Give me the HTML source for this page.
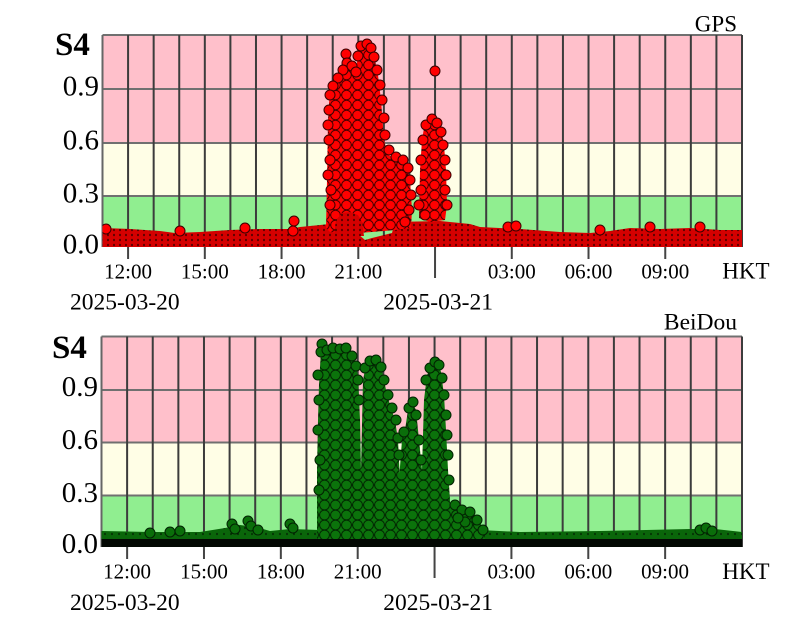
<!DOCTYPE html>
<html>
<head>
<meta charset="utf-8">
<style>
html,body{margin:0;padding:0;background:#fff;}
svg{display:block;}
text{font-family:"Liberation Serif","Times New Roman",serif;fill:#000;}
</style>
</head>
<body>
<svg width="796" height="630" viewBox="0 0 796 630" xmlns="http://www.w3.org/2000/svg">
<defs>
<clipPath id="c1"><rect x="102.5" y="35" width="639.5" height="212"/></clipPath>
<clipPath id="c2"><rect x="101.5" y="336.5" width="640.5" height="210.5"/></clipPath>
<pattern id="bandR" x="0" y="0" width="6" height="5" patternUnits="userSpaceOnUse">
<g fill="#d40000" stroke="#1a0000" stroke-width="1.7">
<circle cx="0" cy="0" r="4"/><circle cx="6" cy="0" r="4"/><circle cx="0" cy="5" r="4"/><circle cx="6" cy="5" r="4"/><circle cx="3" cy="2.5" r="4"/>
</g></pattern>
<pattern id="stR" x="0" y="0" width="11" height="10" patternUnits="userSpaceOnUse">
<g fill="#ff0000" stroke="#4a0000" stroke-width="1">
<circle cx="0" cy="0" r="4.8"/><circle cx="11" cy="0" r="4.8"/><circle cx="0" cy="10" r="4.8"/><circle cx="11" cy="10" r="4.8"/><circle cx="5.5" cy="5" r="4.8"/>
</g></pattern>
<pattern id="bandG" x="0" y="0" width="7" height="6" patternUnits="userSpaceOnUse">
<g fill="#0a660a" stroke="#011801" stroke-width="1.3">
<circle cx="0" cy="0" r="4.5"/><circle cx="7" cy="0" r="4.5"/><circle cx="0" cy="6" r="4.5"/><circle cx="7" cy="6" r="4.5"/><circle cx="3.5" cy="3" r="4.5"/>
</g></pattern>
<pattern id="stG" x="0" y="0" width="11" height="10" patternUnits="userSpaceOnUse">
<g fill="#0b730b" stroke="#022802" stroke-width="1">
<circle cx="0" cy="0" r="4.9"/><circle cx="11" cy="0" r="4.9"/><circle cx="0" cy="10" r="4.9"/><circle cx="11" cy="10" r="4.9"/><circle cx="5.5" cy="5" r="4.9"/>
</g></pattern>
</defs>
<rect width="796" height="630" fill="#fff"/>

<!-- ================= TOP PLOT ================= -->
<rect x="102.5" y="35" width="639.5" height="108" fill="#ffc0cb"/>
<rect x="102.5" y="143" width="639.5" height="53" fill="#fffee6"/>
<rect x="102.5" y="196" width="639.5" height="51" fill="#90ee90"/>
<path d="M102.5 35H742M102.5 89H742M102.5 143H742M102.5 196H742" stroke="#707070" stroke-width="2" fill="none"/>
<path d="M102.5 35V247" stroke="#666" stroke-width="2"/>
<path d="M128.08 35V247M153.66 35V247M179.24 35V247M204.82 35V247M230.4 35V247M255.98 35V247M281.56 35V247M307.14 35V247M332.72 35V247M358.3 35V247M383.88 35V247M409.46 35V247M435.04 35V247M460.62 35V247M486.2 35V247M511.78 35V247M537.36 35V247M562.94 35V247M588.52 35V247M614.1 35V247M639.68 35V247M665.26 35V247M690.84 35V247M716.42 35V247M742 35V247" stroke="#3c3c3c" stroke-width="2" fill="none"/>

<g clip-path="url(#c1)">
<path d="M102.5 228L130 229L160 231L175 233L200 232L230 230L260 229L290 229L300 227L330 224L335 228L358 234L365 240L372 238L392 233L395 222L440 221L470 224L480 227L520 229L560 232L590 233L610 231L630 228L660 229L690 228L720 230L742 230V247H102.5Z" fill="url(#bandR)"/>
<path d="M326 228L327 180L328 120L330 88L335 82L340 72L343 58L348 50L352 62L356 68L360 48L366 42L372 46L375 60L378 75L381 100L384 140L388 155L395 158L402 158L407 165L410 180L412 210L411 228L395 230L372 232L345 234L330 232Z" fill="url(#stR)"/>
<path d="M419 218L420 170L422 140L425 122L431 117L436 120L441 128L444 145L446 170L447 205L445 220L430 222Z" fill="url(#stR)"/>
<path d="M334 236L336 220L342 213L350 212L358 215L362 222L364 236Z" fill="url(#bandR)"/>
<g fill="#ff0000" stroke="#3a0000" stroke-width="1">
<circle cx="346" cy="54" r="5"/><circle cx="347" cy="63" r="5"/><circle cx="343" cy="70" r="5"/><circle cx="338" cy="78" r="5"/><circle cx="333" cy="86" r="5"/><circle cx="330" cy="95" r="5"/><circle cx="329" cy="110" r="5"/><circle cx="328" cy="125" r="5"/><circle cx="329" cy="140" r="5"/><circle cx="330" cy="160" r="5"/><circle cx="328" cy="175" r="5"/><circle cx="331" cy="190" r="5"/><circle cx="330" cy="205" r="5"/>
<circle cx="361" cy="46" r="5"/><circle cx="367" cy="44" r="5"/><circle cx="371" cy="48" r="5"/><circle cx="374" cy="57" r="5"/><circle cx="377" cy="70" r="5"/><circle cx="380" cy="85" r="5"/><circle cx="382" cy="100" r="5"/><circle cx="384" cy="118" r="5"/><circle cx="385" cy="135" r="5"/><circle cx="389" cy="150" r="5"/><circle cx="396" cy="157" r="5"/><circle cx="403" cy="160" r="5"/><circle cx="408" cy="168" r="5"/><circle cx="410" cy="180" r="5"/><circle cx="411" cy="195" r="5"/><circle cx="409" cy="210" r="5"/><circle cx="405" cy="222" r="5"/>
<circle cx="352" cy="66" r="5"/><circle cx="356" cy="72" r="5"/><circle cx="358" cy="56" r="5"/>
<circle cx="421" cy="160" r="5"/><circle cx="423" cy="140" r="5"/><circle cx="426" cy="125" r="5"/><circle cx="432" cy="119" r="5"/><circle cx="437" cy="123" r="5"/><circle cx="441" cy="132" r="5"/><circle cx="443" cy="145" r="5"/><circle cx="445" cy="160" r="5"/><circle cx="446" cy="175" r="5"/><circle cx="445" cy="190" r="5"/><circle cx="447" cy="205" r="5"/><circle cx="421" cy="190" r="5"/><circle cx="419" cy="205" r="5"/><circle cx="425" cy="215" r="5"/>
<circle cx="435" cy="71" r="5"/>
<circle cx="294" cy="221" r="5"/><circle cx="293" cy="231" r="5"/><circle cx="508" cy="227" r="5"/><circle cx="516" cy="226" r="5"/>
<circle cx="106" cy="229" r="5"/><circle cx="180" cy="231" r="5"/><circle cx="245" cy="228" r="5"/><circle cx="600" cy="230" r="5"/><circle cx="650" cy="227" r="5"/><circle cx="700" cy="227" r="5"/>
</g>
</g>
<path d="M128.08 247v12M204.82 247v12M281.56 247v12M358.3 247v12M511.78 247v12M588.52 247v12M665.26 247v12M435.04 247v31" stroke="#444" stroke-width="2" fill="none"/>

<!-- ================= BOTTOM PLOT ================= -->
<rect x="101.5" y="336.5" width="640.5" height="106" fill="#ffc0cb"/>
<rect x="101.5" y="442.5" width="640.5" height="53" fill="#fffee6"/>
<rect x="101.5" y="495.5" width="640.5" height="51.5" fill="#90ee90"/>
<path d="M101.5 336.5H742M101.5 390H742M101.5 442.5H742M101.5 495.5H742" stroke="#707070" stroke-width="2" fill="none"/>
<path d="M101.5 336.5V547" stroke="#666" stroke-width="2"/>
<path d="M127.12 336.5V547M152.74 336.5V547M178.36 336.5V547M203.98 336.5V547M229.6 336.5V547M255.22 336.5V547M280.84 336.5V547M306.46 336.5V547M332.08 336.5V547M357.7 336.5V547M383.32 336.5V547M408.94 336.5V547M434.56 336.5V547M460.18 336.5V547M485.8 336.5V547M511.42 336.5V547M537.04 336.5V547M562.66 336.5V547M588.28 336.5V547M613.9 336.5V547M639.52 336.5V547M665.14 336.5V547M690.76 336.5V547M716.38 336.5V547M742 336.5V547" stroke="#3c3c3c" stroke-width="2" fill="none"/>

<g clip-path="url(#c2)">
<path d="M101.5 531L150 532L200 532L225 528L240 525L256 527L270 531L290 529L320 530L480 530L520 532L600 531L690 529L715 529L742 532V547H101.5Z" fill="url(#bandG)"/>
<path d="M317 540L317 470L318 420L319 385L321 350L324 345L330 352L336 350L342 347L348 352L354 360L358 375L360 420L361 470L362 540Z" fill="url(#stG)"/>
<path d="M360 540L361 470L363 380L366 365L372 360L378 362L382 370L386 390L390 405L395 420L398 440L400 480L400 540Z" fill="url(#stG)"/>
<path d="M398 540L399 480L402 440L405 430L408 410L412 402L416 410L419 440L422 470L423 540Z" fill="url(#stG)"/>
<path d="M421 540L422 470L424 400L427 375L432 365L437 360L441 372L444 395L446 430L448 470L450 500L449 540Z" fill="url(#stG)"/>
<path d="M447 540L449 505L460 510L470 515L480 522L485 535L485 540Z" fill="url(#stG)"/>
<g fill="#0a6e0a" stroke="#022202" stroke-width="1">
<circle cx="322" cy="344" r="5"/><circle cx="318" cy="375" r="5"/><circle cx="319" cy="400" r="5"/><circle cx="318" cy="430" r="5"/><circle cx="320" cy="460" r="5"/><circle cx="319" cy="490" r="5"/><circle cx="321" cy="352" r="5"/><circle cx="327" cy="350" r="5"/><circle cx="333" cy="348" r="5"/><circle cx="340" cy="349" r="5"/><circle cx="346" cy="348" r="5"/><circle cx="352" cy="356" r="5"/><circle cx="356" cy="366" r="5"/><circle cx="358" cy="380" r="5"/><circle cx="359" cy="400" r="5"/>
<circle cx="365" cy="368" r="5"/><circle cx="370" cy="361" r="5"/><circle cx="376" cy="360" r="5"/><circle cx="381" cy="367" r="5"/><circle cx="384" cy="380" r="5"/><circle cx="388" cy="395" r="5"/><circle cx="392" cy="408" r="5"/><circle cx="396" cy="420" r="5"/><circle cx="398" cy="438" r="5"/><circle cx="399" cy="455" r="5"/>
<circle cx="404" cy="432" r="5"/><circle cx="409" cy="408" r="5"/><circle cx="413" cy="402" r="5"/><circle cx="416" cy="415" r="5"/><circle cx="419" cy="440" r="5"/><circle cx="421" cy="460" r="5"/>
<circle cx="426" cy="380" r="5"/><circle cx="430" cy="368" r="5"/><circle cx="435" cy="362" r="5"/><circle cx="439" cy="365" r="5"/><circle cx="442" cy="378" r="5"/><circle cx="444" cy="395" r="5"/><circle cx="446" cy="415" r="5"/><circle cx="447" cy="435" r="5"/><circle cx="448" cy="455" r="5"/><circle cx="449" cy="480" r="5"/>
<circle cx="455" cy="505" r="5"/><circle cx="462" cy="510" r="5"/><circle cx="470" cy="512" r="5"/><circle cx="477" cy="520" r="5"/><circle cx="483" cy="530" r="5"/><circle cx="465" cy="522" r="5"/><circle cx="458" cy="518" r="5"/>
<circle cx="232" cy="524" r="5"/><circle cx="235" cy="529" r="5"/><circle cx="248" cy="521" r="5"/><circle cx="251" cy="526" r="5"/><circle cx="258" cy="530" r="5"/><circle cx="290" cy="524" r="5"/><circle cx="293" cy="528" r="5"/><circle cx="700" cy="530" r="5"/><circle cx="706" cy="528" r="5"/><circle cx="712" cy="531" r="5"/><circle cx="170" cy="532" r="5"/><circle cx="180" cy="531" r="5"/><circle cx="150" cy="533" r="5"/>
</g>
<rect x="101.5" y="539" width="641" height="8" fill="#030803"/>
</g>
<path d="M127.12 547v12M203.98 547v12M280.84 547v12M357.7 547v12M511.42 547v12M588.28 547v12M665.14 547v12M434.56 547v31" stroke="#444" stroke-width="2" fill="none"/>

<!-- ================= TEXT TOP ================= -->
<text x="55" y="55" font-size="33" font-weight="bold">S4</text>
<text x="99" y="95.5" font-size="29" text-anchor="end">0.9</text>
<text x="99" y="149.5" font-size="29" text-anchor="end">0.6</text>
<text x="99" y="202.5" font-size="29" text-anchor="end">0.3</text>
<text x="99" y="253.5" font-size="29" text-anchor="end">0.0</text>
<text x="737" y="31.5" font-size="23" text-anchor="end">GPS</text>
<text x="128.1" y="278.3" font-size="21" text-anchor="middle">12:00</text>
<text x="204.8" y="278.3" font-size="21" text-anchor="middle">15:00</text>
<text x="281.6" y="278.3" font-size="21" text-anchor="middle">18:00</text>
<text x="358.3" y="278.3" font-size="21" text-anchor="middle">21:00</text>
<text x="511.8" y="278.3" font-size="21" text-anchor="middle">03:00</text>
<text x="588.5" y="278.3" font-size="21" text-anchor="middle">06:00</text>
<text x="665.3" y="278.3" font-size="21" text-anchor="middle">09:00</text>
<text x="722.3" y="278.3" font-size="23">HKT</text>
<text x="70" y="309.5" font-size="23.5">2025-03-20</text>
<text x="383.3" y="309.5" font-size="23.5">2025-03-21</text>

<!-- ================= TEXT BOTTOM ================= -->
<text x="52" y="358" font-size="33" font-weight="bold">S4</text>
<text x="98" y="396" font-size="29" text-anchor="end">0.9</text>
<text x="98" y="449" font-size="29" text-anchor="end">0.6</text>
<text x="98" y="502" font-size="29" text-anchor="end">0.3</text>
<text x="98" y="553" font-size="29" text-anchor="end">0.0</text>
<text x="737" y="329.3" font-size="23.5" text-anchor="end">BeiDou</text>
<text x="127.1" y="578.5" font-size="21" text-anchor="middle">12:00</text>
<text x="204" y="578.5" font-size="21" text-anchor="middle">15:00</text>
<text x="280.8" y="578.5" font-size="21" text-anchor="middle">18:00</text>
<text x="357.7" y="578.5" font-size="21" text-anchor="middle">21:00</text>
<text x="511.4" y="578.5" font-size="21" text-anchor="middle">03:00</text>
<text x="588.3" y="578.5" font-size="21" text-anchor="middle">06:00</text>
<text x="665.1" y="578.5" font-size="21" text-anchor="middle">09:00</text>
<text x="722.3" y="579" font-size="23">HKT</text>
<text x="70" y="610" font-size="23.5">2025-03-20</text>
<text x="383.3" y="610" font-size="23.5">2025-03-21</text>
</svg>
</body>
</html>
